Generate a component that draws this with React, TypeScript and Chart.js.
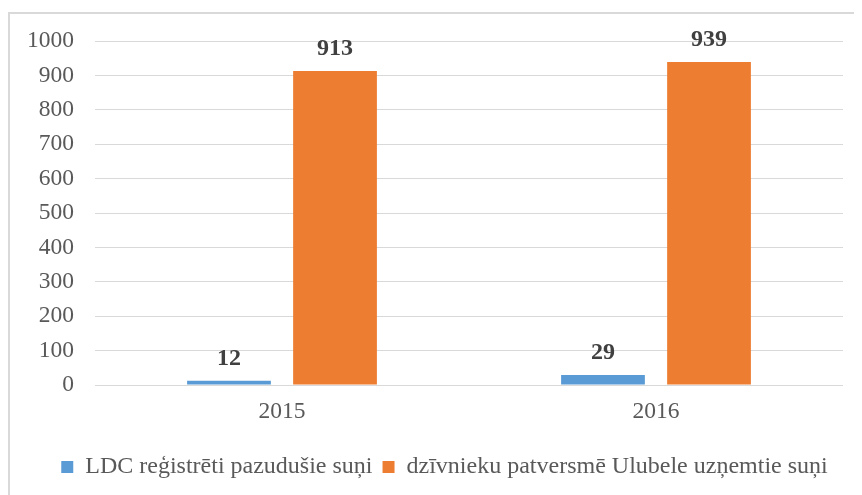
import React, { useEffect, useRef } from "react";
import { Chart, registerables } from "chart.js";

Chart.register(...registerables);

const categories = ["2015", "2016"];
const seriesNames = ["LDC reģistrēti pazudušie suņi", "dzīvnieku patversmē Ulubele uzņemtie suņi"];
const lostDogs = [12, 29];
const shelterDogs = [913, 939];
const yTicks = [0, 100, 200, 300, 400, 500, 600, 700, 800, 900, 1000];

const FONT = "'Liberation Serif', 'Times New Roman', serif";

const dataLabels = {
  id: "dataLabels",
  afterLayout(chart: any) {
    if (chart.legend) {
      chart.legend.left += 18;
      chart.legend.right += 18;
    }
  },
  afterDatasetsDraw(chart: any) {
    const ctx = chart.ctx;
    ctx.save();
    ctx.font = `bold 24px ${FONT}`;
    ctx.fillStyle = "#404040";
    ctx.textAlign = "center";
    ctx.textBaseline = "alphabetic";
    chart.data.datasets.forEach((ds: any, i: number) => {
      const meta = chart.getDatasetMeta(i);
      meta.data.forEach((bar: any, j: number) => {
        ctx.fillText(String(ds.data[j]), bar.x, bar.y - 16);
      });
    });
    ctx.restore();
  },
};

export default function App() {
  const ref = useRef<HTMLCanvasElement>(null);
  useEffect(() => {
    const chart = new Chart(ref.current!, {
      type: "bar",
      data: {
        labels: categories,
        datasets: [
          { label: seriesNames[0], data: lostDogs, backgroundColor: "#5b9bd5" },
          { label: seriesNames[1], data: shelterDogs, backgroundColor: "#ed7d31" },
        ],
      },
      options: {
        animation: false,
        responsive: false,
        maintainAspectRatio: false,
        layout: { padding: { top: 27, right: 19, left: 0, bottom: 6 } },
        datasets: { bar: { categoryPercentage: 0.567, barPercentage: 0.79 } },
        scales: {
          x: {
            grid: { display: false },
            border: { display: false },
            ticks: { color: "#595959", font: { family: FONT, size: 23.5 }, padding: 5 },
            afterFit: (scale: any) => {
              scale.height = 60;
            },
          },
          y: {
            min: 0,
            max: 1000,
            afterBuildTicks: (scale: any) => {
              scale.ticks = yTicks.map((v) => ({ value: v }));
            },
            afterFit: (scale: any) => {
              scale.width = 85;
              scale.paddingTop = 0;
              scale.paddingBottom = 0;
            },
            grid: { color: "#d9d9d9", lineWidth: 1, drawTicks: false },
            border: { display: false },
            ticks: {
              color: "#595959",
              font: { family: FONT, size: 23.5 },
              padding: 21,
              callback: (v: any) => String(v),
            },
          },
        },
        plugins: {
          legend: {
            position: "bottom",
            labels: {
              color: "#595959",
              font: { family: FONT, size: 24 },
              boxWidth: 12,
              boxHeight: 12,
              padding: 10,
            },
          },
          tooltip: { enabled: false },
        },
      },
      plugins: [dataLabels],
    });
    return () => chart.destroy();
  }, []);

  return (
    <div
      style={{
        marginTop: 4,
        borderTop: "2px solid #d9d9d9",
        borderLeft: "2px solid #d9d9d9",
        width: 852,
        height: 481,
        overflow: "hidden",
      }}
    >
      <canvas ref={ref} width={852} height={481} style={{ display: "block" }} />
    </div>
  );
}
